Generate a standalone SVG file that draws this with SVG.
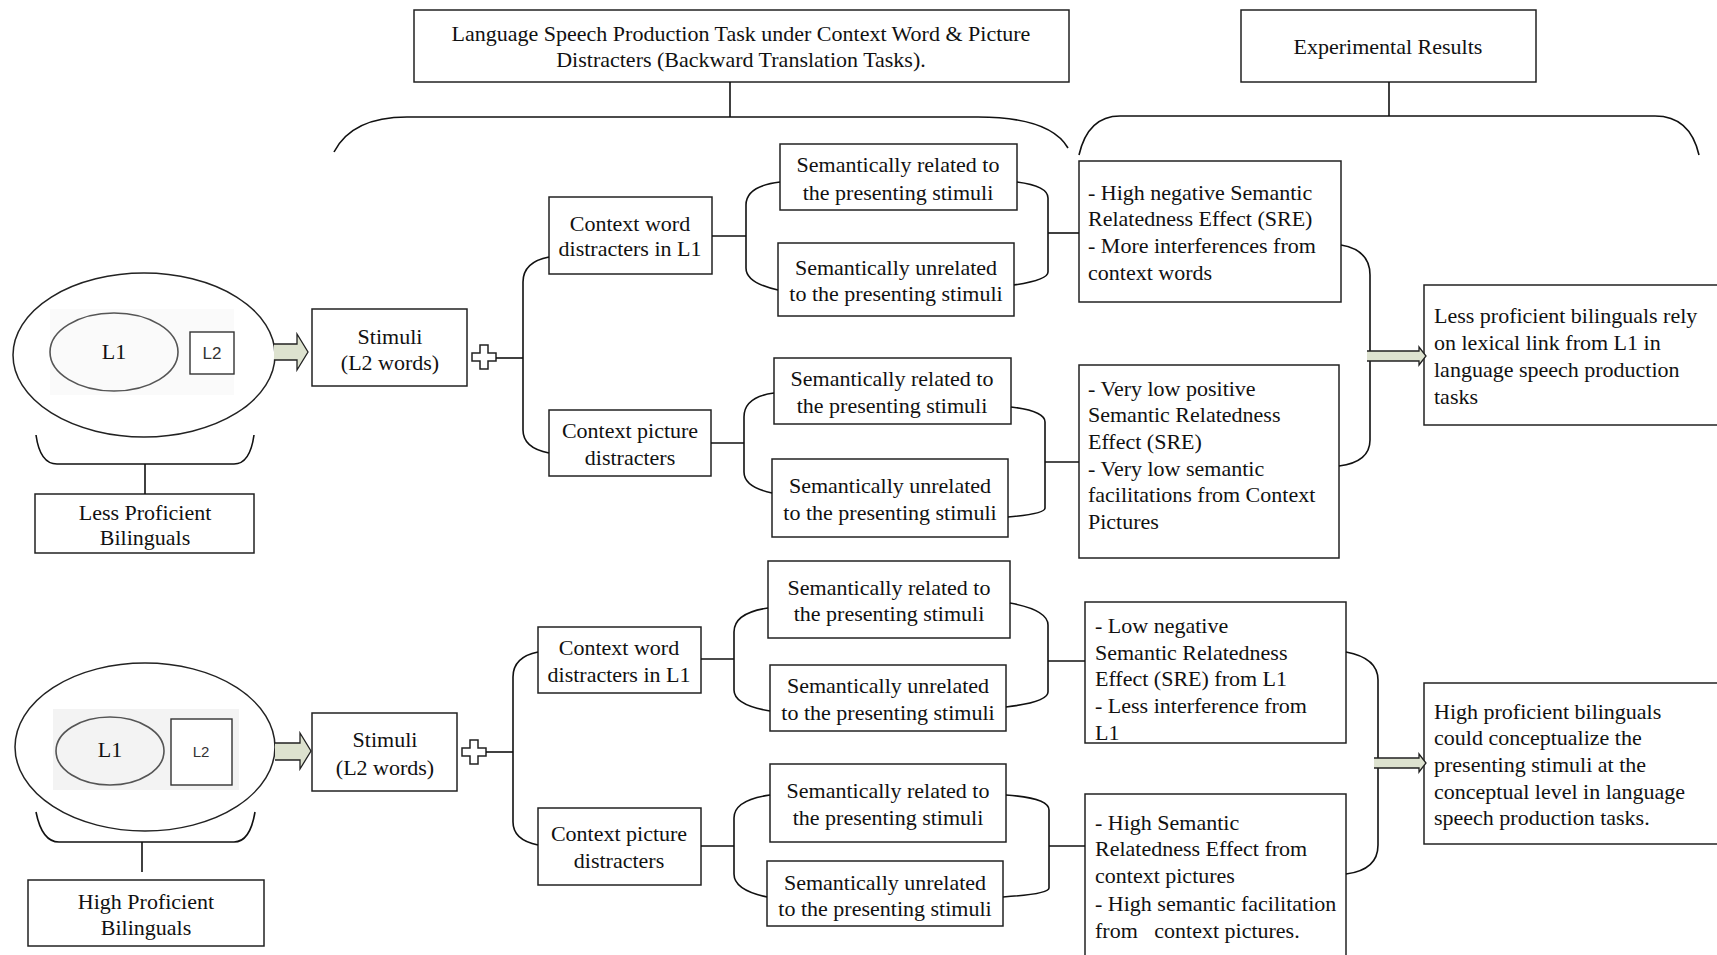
<svg xmlns="http://www.w3.org/2000/svg" width="1717" height="955" viewBox="0 0 1717 955">
<style>
.box{fill:#fff;stroke:#222;stroke-width:1.5}
.ln{fill:none;stroke:#111;stroke-width:1.6}
.t{font-family:"Liberation Serif","Times New Roman",serif;font-size:22px;fill:#111}
.c{text-anchor:middle}
.arr{fill:#dde2cf;stroke:none}
.arro{fill:none;stroke:#222;stroke-width:1.3}
.plus{fill:#fff;stroke:#222;stroke-width:1.5}
.sans{font-family:"Liberation Sans",Arial,sans-serif;fill:#333}
</style>
<rect width="1717" height="955" fill="#fff"/>

<!-- Headers -->
<g id="header-task">
<rect class="box" x="414" y="10" width="655" height="72"/>
<text class="t c" x="741" y="41">Language Speech Production Task under Context Word &amp; Picture</text>
<text class="t c" x="741" y="67">Distracters (Backward Translation Tasks).</text>
</g>
<g id="header-results">
<rect class="box" x="1241" y="10" width="295" height="72"/>
<text class="t c" x="1388" y="54">Experimental Results</text>
</g>

<!-- Less proficient bilingual model -->
<g id="less-model">
<ellipse cx="144" cy="355" rx="131" ry="82" fill="#fff" stroke="#222" stroke-width="1.5"/>
<rect x="50" y="309" width="184" height="86" fill="#fafafa"/>
<ellipse cx="114" cy="352" rx="64" ry="39" fill="none" stroke="#555" stroke-width="1.6"/>
<text class="t c" x="114" y="359">L1</text>
<rect x="190" y="332" width="44" height="42" fill="#fff" stroke="#333" stroke-width="1.4"/>
<text class="sans c" x="212" y="359" font-size="17">L2</text>
</g>
<g id="less-label">
<rect class="box" x="35" y="494" width="219" height="59"/>
<text class="t c" x="145" y="520">Less Proficient</text>
<text class="t c" x="145" y="545">Bilinguals</text>
</g>
<g id="less-stimuli">
<rect class="box" x="312" y="309" width="155" height="77"/>
<text class="t c" x="390" y="344">Stimuli</text>
<text class="t c" x="390" y="370">(L2 words)</text>
</g>
<g id="less-ctx-word">
<rect class="box" x="549" y="197" width="163" height="77"/>
<text class="t c" x="630" y="231">Context word</text>
<text class="t c" x="630" y="256">distracters in L1</text>
</g>
<g id="less-ctx-pic">
<rect class="box" x="549" y="410" width="162" height="66"/>
<text class="t c" x="630" y="438">Context picture</text>
<text class="t c" x="630" y="465">distracters</text>
</g>
<g id="less-word-rel">
<rect class="box" x="780" y="144" width="237" height="66"/>
<text class="t c" x="898" y="172">Semantically related to</text>
<text class="t c" x="898" y="200">the presenting stimuli</text>
</g>
<g id="less-word-unrel">
<rect class="box" x="778" y="243" width="236" height="73"/>
<text class="t c" x="896" y="275">Semantically unrelated</text>
<text class="t c" x="896" y="301">to the presenting stimuli</text>
</g>
<g id="less-pic-rel">
<rect class="box" x="774" y="358" width="237" height="66"/>
<text class="t c" x="892" y="386">Semantically related to</text>
<text class="t c" x="892" y="413">the presenting stimuli</text>
</g>
<g id="less-pic-unrel">
<rect class="box" x="772" y="459" width="236" height="78"/>
<text class="t c" x="890" y="493">Semantically unrelated</text>
<text class="t c" x="890" y="520">to the presenting stimuli</text>
</g>
<g id="less-result-word">
<rect class="box" x="1079" y="161" width="262" height="141"/>
<text class="t" x="1088" y="200">- High negative Semantic</text>
<text class="t" x="1088" y="226">Relatedness Effect (SRE)</text>
<text class="t" x="1088" y="253">- More interferences from</text>
<text class="t" x="1088" y="280">context words</text>
</g>
<g id="less-result-pic">
<rect class="box" x="1079" y="365" width="260" height="193"/>
<text class="t" x="1088" y="396">- Very low positive</text>
<text class="t" x="1088" y="422">Semantic Relatedness</text>
<text class="t" x="1088" y="449">Effect (SRE)</text>
<text class="t" x="1088" y="476">- Very low semantic</text>
<text class="t" x="1088" y="502">facilitations from Context</text>
<text class="t" x="1088" y="529">Pictures</text>
</g>
<g id="less-conclusion">
<rect class="box" x="1424" y="285" width="300" height="140"/>
<text class="t" x="1434" y="323">Less proficient bilinguals rely</text>
<text class="t" x="1434" y="350">on lexical link from L1 in</text>
<text class="t" x="1434" y="377">language speech production</text>
<text class="t" x="1434" y="404">tasks</text>
</g>

<!-- High proficient bilingual model -->
<g id="high-model">
<ellipse cx="145" cy="747" rx="130" ry="84" fill="#fff" stroke="#222" stroke-width="1.5"/>
<rect x="53" y="709" width="186" height="81" fill="#f3f3f3"/>
<ellipse cx="110" cy="751" rx="54" ry="34" fill="none" stroke="#555" stroke-width="1.6"/>
<text class="t c" x="110" y="757" font-size="17">L1</text>
<rect x="171" y="719" width="61" height="66" fill="#fff" stroke="#333" stroke-width="1.4"/>
<text class="sans c" x="201" y="757" font-size="15">L2</text>
</g>
<g id="high-label">
<rect class="box" x="28" y="880" width="236" height="66"/>
<text class="t c" x="146" y="909">High Proficient</text>
<text class="t c" x="146" y="935">Bilinguals</text>
</g>
<g id="high-stimuli">
<rect class="box" x="312" y="713" width="145" height="78"/>
<text class="t c" x="385" y="747">Stimuli</text>
<text class="t c" x="385" y="775">(L2 words)</text>
</g>
<g id="high-ctx-word">
<rect class="box" x="538" y="627" width="163" height="66"/>
<text class="t c" x="619" y="655">Context word</text>
<text class="t c" x="619" y="682">distracters in L1</text>
</g>
<g id="high-ctx-pic">
<rect class="box" x="538" y="808" width="163" height="77"/>
<text class="t c" x="619" y="841">Context picture</text>
<text class="t c" x="619" y="868">distracters</text>
</g>
<g id="high-word-rel">
<rect class="box" x="768" y="561" width="242" height="77"/>
<text class="t c" x="889" y="595">Semantically related to</text>
<text class="t c" x="889" y="621">the presenting stimuli</text>
</g>
<g id="high-word-unrel">
<rect class="box" x="770" y="665" width="236" height="66"/>
<text class="t c" x="888" y="693">Semantically unrelated</text>
<text class="t c" x="888" y="720">to the presenting stimuli</text>
</g>
<g id="high-pic-rel">
<rect class="box" x="770" y="764" width="236" height="78"/>
<text class="t c" x="888" y="798">Semantically related to</text>
<text class="t c" x="888" y="825">the presenting stimuli</text>
</g>
<g id="high-pic-unrel">
<rect class="box" x="767" y="861" width="236" height="65"/>
<text class="t c" x="885" y="890">Semantically unrelated</text>
<text class="t c" x="885" y="916">to the presenting stimuli</text>
</g>
<g id="high-result-word">
<rect class="box" x="1085" y="602" width="261" height="141"/>
<text class="t" x="1095" y="633">- Low negative</text>
<text class="t" x="1095" y="660">Semantic Relatedness</text>
<text class="t" x="1095" y="686">Effect (SRE) from L1</text>
<text class="t" x="1095" y="713">- Less interference from</text>
<text class="t" x="1095" y="740">L1</text>
</g>
<g id="high-result-pic">
<rect class="box" x="1085" y="794" width="261" height="175"/>
<text class="t" x="1095" y="830">- High Semantic</text>
<text class="t" x="1095" y="856">Relatedness Effect from</text>
<text class="t" x="1095" y="883">context pictures</text>
<text class="t" x="1095" y="911">- High semantic facilitation</text>
<text class="t" x="1095" y="938" xml:space="preserve">from   context pictures.</text>
</g>
<g id="high-conclusion">
<rect class="box" x="1424" y="683" width="300" height="161"/>
<text class="t" x="1434" y="719">High proficient bilinguals</text>
<text class="t" x="1434" y="745">could conceptualize the</text>
<text class="t" x="1434" y="772">presenting stimuli at the</text>
<text class="t" x="1434" y="799">conceptual level in language</text>
<text class="t" x="1434" y="825">speech production tasks.</text>
</g>

<!-- Connectors -->
<g id="connectors">
<!-- header braces -->
<path class="ln" d="M730 82 V117"/>
<path class="ln" d="M334 152 Q352 117 407 117 H978 Q1050 117 1068 148"/>
<path class="ln" d="M1389 82 V116"/>
<path class="ln" d="M1079 155 Q1088 116 1120 116 H1655 Q1690 116 1699 155"/>

<!-- less: model brace -->
<path class="ln" d="M36 435 Q40 464 57 464 H234 Q250 464 254 435"/>
<path class="ln" d="M145 464 V494"/>
<!-- less: big arrow -->
<polygon class="arr" points="274,344 297,344 297,334 308,352 297,370 297,360 274,360"/>
<polyline class="arro" points="274,344 297,344 297,334 308,352 297,370 297,360 274,360"/>
<!-- less: plus and bus -->
<polygon class="plus" points="480,345 488,345 488,353 496,353 496,361 488,361 488,369 480,369 480,361 472,361 472,353 480,353"/>
<path class="ln" d="M496 358 H523"/>
<path class="ln" d="M549 257 Q523 262 523 282 V430 Q523 448 549 453"/>
<!-- less: context word to sem boxes -->
<path class="ln" d="M712 236 H746"/>
<path class="ln" d="M780 182 Q746 186 746 205 V268 Q746 283 778 290"/>
<path class="ln" d="M1017 182 Q1048 186 1048 198 V272 Q1048 280 1014 285"/>
<path class="ln" d="M1048 233 H1079"/>
<!-- less: context picture to sem boxes -->
<path class="ln" d="M711 443 H744"/>
<path class="ln" d="M774 393 Q744 397 744 417 V472 Q744 487 772 493"/>
<path class="ln" d="M1011 407 Q1045 411 1045 422 V508 Q1045 514 1008 517"/>
<path class="ln" d="M1045 462 H1079"/>
<!-- less: results bracket + arrow -->
<path class="ln" d="M1341 245 Q1370 250 1370 275 V440 Q1370 462 1339 466"/>
<polygon class="arr" points="1367,351 1419,351 1419,347 1426,356 1419,365 1419,361 1367,361"/>
<polyline class="arro" points="1367,351 1419,351 1419,347 1426,356 1419,365 1419,361 1367,361"/>

<!-- high: model brace -->
<path class="ln" d="M36 812 Q42 842 59 842 H234 Q250 842 255 812"/>
<path class="ln" d="M142 842 V872"/>
<!-- high: big arrow -->
<polygon class="arr" points="275,743 300,743 300,733 311,751 300,769 300,760 275,760"/>
<polyline class="arro" points="275,743 300,743 300,733 311,751 300,769 300,760 275,760"/>
<!-- high: plus and bus -->
<polygon class="plus" points="470,740 478,740 478,748 486,748 486,756 478,756 478,764 470,764 470,756 462,756 462,748 470,748"/>
<path class="ln" d="M486 752 H513"/>
<path class="ln" d="M538 652 Q513 657 513 677 V822 Q513 840 538 845"/>
<!-- high: context word to sem boxes -->
<path class="ln" d="M701 659 H734"/>
<path class="ln" d="M768 608 Q734 613 734 632 V690 Q734 705 770 711"/>
<path class="ln" d="M1010 603 Q1048 610 1048 625 V692 Q1048 702 1006 707"/>
<path class="ln" d="M1048 661 H1085"/>
<!-- high: context picture to sem boxes -->
<path class="ln" d="M701 846 H734"/>
<path class="ln" d="M770 795 Q734 800 734 818 V874 Q734 890 767 897"/>
<path class="ln" d="M1006 795 Q1049 798 1049 810 V888 Q1049 894 1003 897"/>
<path class="ln" d="M1049 846 H1085"/>
<!-- high: results bracket + arrow -->
<path class="ln" d="M1346 652 Q1378 658 1378 680 V845 Q1378 870 1346 874"/>
<polygon class="arr" points="1374,758 1419,758 1419,754 1426,763 1419,772 1419,768 1374,768"/>
<polyline class="arro" points="1374,758 1419,758 1419,754 1426,763 1419,772 1419,768 1374,768"/>
</g>
</svg>
